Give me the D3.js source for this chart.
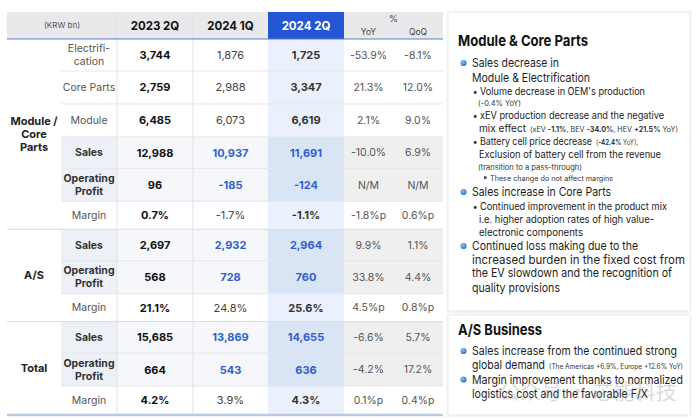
<!DOCTYPE html>
<html><head><meta charset="utf-8">
<script src="https://cdn.jsdelivr.net/npm/d3@7"></script>
<style>body{margin:0;background:#fff}svg{display:block;font-family:Inter,"Noto Sans",sans-serif}</style>
</head><body><svg id="c" width="700" height="420"></svg>
<script>
// ---------- data ----------
const unitLabel = "(KRW bn)";
const periods = ["2023 2Q", "2024 1Q", "2024 2Q"];
const changeHeader = "%";
const changeCols = ["YoY", "QoQ"];
const groups = ["Module /\nCore\nParts", "A/S", "Total"];
const rowGroup = [0, 0, 0, 0, 0, 0, 1, 1, 1, 2, 2, 2];
const rowLabels = ["Electrifi-\ncation", "Core Parts", "Module", "Sales", "Operating\nProfit", "Margin",
                   "Sales", "Operating\nProfit", "Margin", "Sales", "Operating\nProfit", "Margin"];
const v2023Q2 = ["3,744", "2,759", "6,485", "12,988", "96", "0.7%", "2,697", "568", "21.1%", "15,685", "664", "4.2%"];
const v2024Q1 = ["1,876", "2,988", "6,073", "10,937", "-185", "-1.7%", "2,932", "728", "24.8%", "13,869", "543", "3.9%"];
const v2024Q2 = ["1,725", "3,347", "6,619", "11,691", "-124", "-1.1%", "2,964", "760", "25.6%", "14,655", "636", "4.3%"];
const yoy = ["-53.9%", "21.3%", "2.1%", "-10.0%", "N/M", "-1.8%p", "9.9%", "33.8%", "4.5%p", "-6.6%", "-4.2%", "0.1%p"];
const qoq = ["-8.1%", "12.0%", "9.0%", "6.9%", "N/M", "0.6%p", "1.1%", "4.4%", "0.8%p", "5.7%", "17.2%", "0.4%p"];

const panel1Title = "Module & Core Parts";
const panel1Lines = [
  {t: "bullet", s: "Sales decrease in"},
  {t: "main", s: "Module & Electrification"},
  {t: "sub", s: "Volume decrease in OEM's production", dot: true},
  {t: "small", s: "(-0.4% YoY)"},
  {t: "sub", s: "xEV production decrease and the negative", dot: true},
  {t: "sub", s: "mix effect", tail: [["(xEV ", 0], ["-1.1%", 1], [", BEV ", 0], ["-34.0%", 1], [", HEV ", 0], ["+21.5%", 1], [" YoY)", 0]]},
  {t: "sub", s: "Battery cell price decrease", dot: true, tail: [["(", 0], ["-42.4%", 1], [" YoY),", 0]]},
  {t: "sub", s: "Exclusion of battery cell from the revenue"},
  {t: "small", s: "(transition to a pass-through)"},
  {t: "note", s: "These change do not affect margins"},
  {t: "bullet", s: "Sales increase in Core Parts"},
  {t: "sub", s: "Continued improvement in the product mix", dot: true},
  {t: "sub", s: "i.e. higher adoption rates of high value-"},
  {t: "sub", s: "electronic components"},
  {t: "bullet", s: "Continued loss making due to the"},
  {t: "main", s: "increased burden in the fixed cost from"},
  {t: "main", s: "the EV slowdown and the recognition of"},
  {t: "main", s: "quality provisions"}
];
const panel2Title = "A/S Business";
const panel2Lines = [
  {t: "bullet", s: "Sales increase from the continued strong"},
  {t: "main", s: "global demand", tail: [["(The Americas +6.9%, Europe +12.6% YoY)", 0]]},
  {t: "bullet", s: "Margin improvement thanks to normalized"},
  {t: "main", s: "logistics cost and the favorable F/X"}
];
const watermark = "公众号 · 芯能科技";

// ---------- layout ----------
const svg = d3.select("#c");
const colUnits = [54, 56, 76, 75, 76, 49, 50];
const colEdges = [0]; colUnits.forEach(u => colEdges.push(colEdges[colEdges.length - 1] + u));
const x = d3.scaleLinear().domain([0, colEdges[colEdges.length - 1]]).range([7, 443]);
const kindUnits = {"Electrifi-\ncation": 32, "Core Parts": 33, "Module": 33, "Sales": 31.5, "Operating\nProfit": 33, "Margin": 28};
const rowEdges = [0]; rowLabels.forEach(l => rowEdges.push(rowEdges[rowEdges.length - 1] + kindUnits[l]));
const y = d3.scaleLinear().domain([0, rowEdges[rowEdges.length - 1]]).range([39, 414]);
const headTop = 12;
const isHi = l => l === "Sales" || l === "Operating\nProfit";
const blue = "#2f5fd0";

// header background
svg.append("rect").attr("x", x(0)).attr("y", headTop).attr("width", x(colEdges[7]) - x(0)).attr("height", y(0) - headTop).attr("fill", "#e9e9eb");
svg.append("rect").attr("x", x(colEdges[4])).attr("y", headTop).attr("width", x(colEdges[5]) - x(colEdges[4])).attr("height", y(0) - headTop).attr("fill", "#2456d3");

// body cells
const rows = rowLabels.map((l, i) => ({l, i, y0: y(rowEdges[i]), y1: y(rowEdges[i + 1]), hi: isHi(l)}));
const cellFill = (r, c) => {
  if (c === 1) return r.hi ? "#edf1f7" : "#fff";
  if (c === 2 || c === 3) return r.hi ? "#f5f7fb" : "#fff";
  if (c === 4) return r.hi ? "#d9e4f5" : "#eaf1fc";
  if (c >= 5) return r.hi ? "#efefef" : "#fff";
  return "#fff";
};
rows.forEach(r => {
  for (let c = 1; c < 7; c++) {
    svg.append("rect").attr("x", x(colEdges[c])).attr("y", r.y0).attr("width", x(colEdges[c + 1]) - x(colEdges[c])).attr("height", r.y1 - r.y0).attr("fill", cellFill(r, c));
  }
});

// grid lines
rows.forEach((r, i) => {
  if (i === rows.length - 1) return;
  const groupEnd = rowGroup[i] !== rowGroup[i + 1];
  svg.append("line").attr("x1", groupEnd ? x(0) : x(colEdges[1])).attr("x2", x(colEdges[7]))
    .attr("y1", r.y1).attr("y2", r.y1).attr("stroke", groupEnd ? "#dcdcdc" : "#e6e6e6").attr("stroke-width", 1);
});
[2, 3].forEach(c => svg.append("line").attr("x1", x(colEdges[c])).attr("x2", x(colEdges[c])).attr("y1", headTop).attr("y2", y(rowEdges[rowEdges.length - 1])).attr("stroke", "#e3e3e6"));
svg.append("line").attr("x1", x(0)).attr("x2", x(colEdges[7])).attr("y1", y(0)).attr("y2", y(0)).attr("stroke", "#5a7ed8").attr("stroke-width", 1.2);
svg.append("line").attr("x1", x(0)).attr("x2", x(colEdges[7])).attr("y1", y(rowEdges[rowEdges.length - 1]) + 1).attr("y2", y(rowEdges[rowEdges.length - 1]) + 1).attr("stroke", "#b9c9e4").attr("stroke-width", 2.5);

// helpers
const cx = c => (x(colEdges[c]) + x(colEdges[c + 1])) / 2;
function multiText(xc, yc, label, attrs, lh) {
  const lines = label.split("\n");
  const t = svg.append("text").attr("text-anchor", "middle");
  Object.entries(attrs).forEach(([k, v]) => t.attr(k, v));
  lines.forEach((s, j) => t.append("tspan").attr("x", xc).attr("y", yc + (j - (lines.length - 1) / 2) * lh).attr("dy", "0.36em").text(s));
  return t;
}

// header text
multiText((x(0) + x(colEdges[2])) / 2, 25.5, unitLabel, {"font-size": 8, fill: "#555"}, 0);
periods.forEach((p, k) => multiText(cx(2 + k), 25.5, p, {"font-size": 11.5, "font-weight": 700, fill: k === 2 ? "#fff" : "#111"}, 0));
multiText((x(colEdges[5]) + x(colEdges[7])) / 2, 19, changeHeader, {"font-size": 9, fill: "#444"}, 0);
changeCols.forEach((s, k) => multiText(cx(5 + k), 32, s, {"font-size": 8.5, fill: "#444"}, 0));

// group labels
groups.forEach((g, gi) => {
  const idx = rowGroup.map((v, i) => v === gi ? i : -1).filter(i => i >= 0);
  const yc = (y(rowEdges[idx[0]]) + y(rowEdges[idx[idx.length - 1] + 1])) / 2;
  multiText(cx(0), yc, g, {"font-size": 11, "font-weight": 700, fill: "#222"}, 13);
});

// row labels & values
rows.forEach(r => {
  const yc = (r.y0 + r.y1) / 2;
  multiText(cx(1), yc, r.l, r.hi ? {"font-size": 10.5, "font-weight": 700, fill: "#333"} : {"font-size": 10.5, fill: "#555"}, 13);
  multiText(cx(2), yc, v2023Q2[r.i], {"font-size": 11, "font-weight": 700, fill: "#111"}, 0);
  multiText(cx(3), yc, v2024Q1[r.i], r.hi ? {"font-size": 11, "font-weight": 700, fill: blue} : {"font-size": 11, fill: "#444"}, 0);
  multiText(cx(4), yc, v2024Q2[r.i], r.hi ? {"font-size": 11, "font-weight": 700, fill: blue} : {"font-size": 11, "font-weight": 700, fill: "#333"}, 0);
  multiText(cx(5), yc, yoy[r.i], {"font-size": 10.5, fill: "#555"}, 0);
  multiText(cx(6), yc, qoq[r.i], {"font-size": 10.5, fill: "#555"}, 0);
});

// ---------- right panels ----------
const defs = svg.append("defs");
const f = defs.append("filter").attr("id", "sh").attr("x", "-5%").attr("y", "-5%").attr("width", "110%").attr("height", "110%");
f.append("feDropShadow").attr("dx", 0).attr("dy", 0.5).attr("stdDeviation", 1.2).attr("flood-color", "#000").attr("flood-opacity", 0.12);
const grad = defs.append("radialGradient").attr("id", "dotg").attr("cx", "35%").attr("cy", "35%").attr("r", "65%");
grad.append("stop").attr("offset", "0%").attr("stop-color", "#8cc0f0");
grad.append("stop").attr("offset", "100%").attr("stop-color", "#2f78cc");

const panels = [
  {y0: 12, y1: 311, title: panel1Title, titleY: 46, titleW: 130, lines: panel1Lines,
   base: [67, 82, 95, 105.5, 119, 132, 145, 158, 169.5, 180.5, 196, 210, 223, 236, 250, 263.5, 277, 292],
   widths: [87, 118, 165, 43, 184, 47, 112, 182, 104, 123, 139, 187, 175, 104, 166, 213, 200, 88],
   tailW: {5: 148, 6: 42}},
  {y0: 315, y1: 415, title: panel2Title, titleY: 335, titleW: 84, lines: panel2Lines,
   base: [355, 369, 383.5, 398],
   widths: [205, 73, 211, 176],
   tailW: {1: 134}}
];
const px0 = 448, px1 = 690;
panels.forEach(p => {
  svg.append("rect").attr("x", px0).attr("y", p.y0).attr("width", px1 - px0).attr("height", p.y1 - p.y0)
    .attr("fill", "#fff").attr("stroke", "#e6e6e6").attr("stroke-width", 0.8).attr("filter", "url(#sh)");
  svg.append("text").attr("x", 458).attr("y", p.titleY).attr("font-size", 15).attr("font-weight", 700).attr("fill", "#111")
    .attr("textLength", p.titleW).attr("lengthAdjust", "spacingAndGlyphs").text(p.title);
  p.lines.forEach((ln, i) => {
    const by = p.base[i], w = p.widths[i];
    let tx, fs, col = "#222";
    if (ln.t === "bullet" || ln.t === "main") { tx = 472; fs = 11.8; col = "#1e1e1e"; }
    else if (ln.t === "sub") { tx = ln.dot ? 480 : 479; fs = 10.3; col = "#222"; }
    else if (ln.t === "small") { tx = 478; fs = 7.4; col = "#333"; }
    else if (ln.t === "note") { tx = 490; fs = 7.2; col = "#333"; }
    if (ln.t === "bullet") svg.append("circle").attr("cx", 463.5).attr("cy", by - 4).attr("r", 3.1).attr("fill", "url(#dotg)");
    if (ln.dot) svg.append("text").attr("x", 472.5).attr("y", by).attr("font-size", 9.5).attr("fill", "#333").text("•");
    if (ln.t === "note") svg.append("rect").attr("x", 484).attr("y", by - 4.2).attr("width", 2.6).attr("height", 2.6).attr("fill", "#444");
    svg.append("text").attr("x", tx).attr("y", by).attr("font-size", fs).attr("fill", col)
      .attr("textLength", w).attr("lengthAdjust", "spacingAndGlyphs").text(ln.s);
    if (ln.tail) {
      const tt = svg.append("text").attr("x", tx + w + 4).attr("y", by).attr("font-size", 7.2).attr("fill", "#333")
        .attr("textLength", p.tailW[i]).attr("lengthAdjust", "spacingAndGlyphs");
      ln.tail.forEach(([s, b]) => tt.append("tspan").attr("font-weight", b ? 700 : 400).text(s));
    }
  });
});

// watermark
svg.append("text").attr("x", 588).attr("y", 399).attr("text-anchor", "middle").attr("font-size", 21)
  .attr("font-family", "'Noto Sans CJK SC', sans-serif").attr("fill", "#8a8a8a").attr("opacity", 0.3).text(watermark);
</script></body></html>
